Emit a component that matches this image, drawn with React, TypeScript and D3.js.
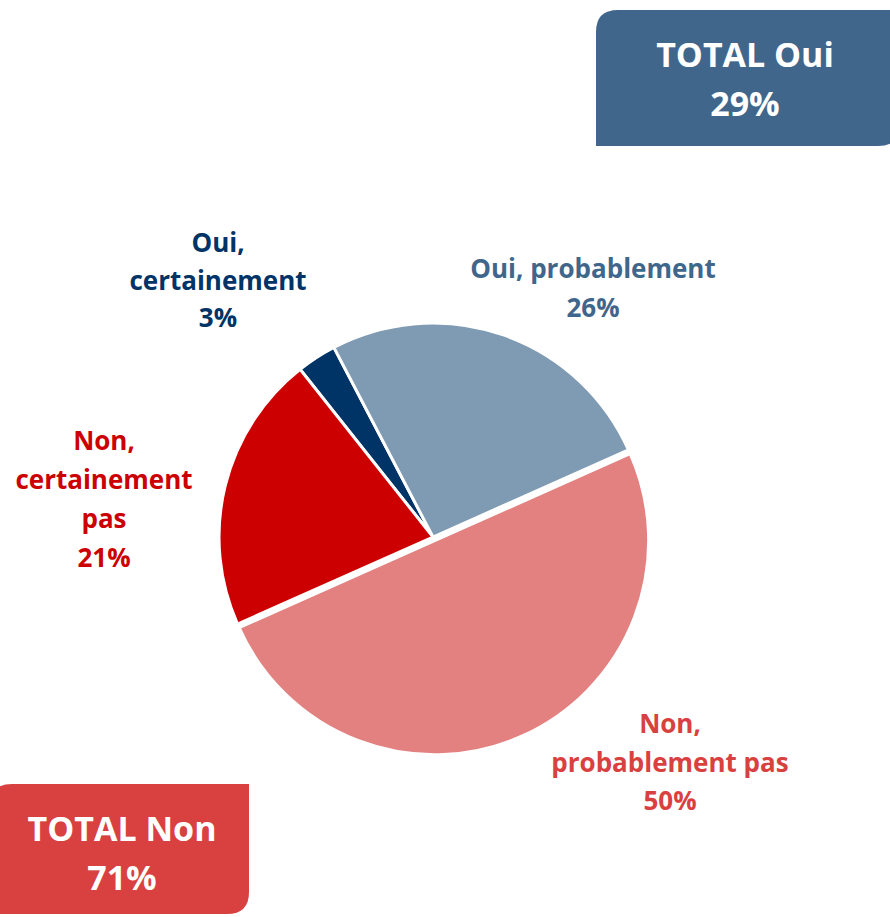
import React from 'react';
import * as d3 from 'd3';

// chart values
const categories = ['Oui, certainement', 'Oui, probablement', 'Non, probablement pas', 'Non, certainement pas'];
const values = [3, 26, 50, 21];
const sliceColors = ['#003366', '#7F9AB3', '#E38080', '#CC0000'];
const labelColors = ['#003366', '#41668C', '#D94040', '#CC0000'];
const labelLines = [
  ['Oui,', 'certainement', '3%'],
  ['Oui, probablement', '26%'],
  ['Non,', 'probablement pas', '50%'],
  ['Non,', 'certainement', 'pas', '21%'],
];
const totals = [
  { label: 'TOTAL Oui', value: '29%', color: '#41668C' },
  { label: 'TOTAL Non', value: '71%', color: '#D94040' },
];

const W = 890;
const H = 917;
const FONT = '"Open Sans", "DejaVu Sans", sans-serif';

const App = () => {
  const svgRef = React.useRef<SVGSVGElement>(null);

  React.useEffect(() => {
    const svg = d3.select(svgRef.current);
    svg.selectAll('*').remove();

    const cx = 433;
    const cy = 537;
    const r = 214;
    const startAngle = (-38.4 * Math.PI) / 180;

    const pie = d3.pie<number>().sort(null).value(d => d)
      .startAngle(startAngle).endAngle(startAngle + 2 * Math.PI);
    const arcs = pie(values);
    const arc = d3.arc<d3.PieArcDatum<number>>().innerRadius(0).outerRadius(r);

    const g = svg.append('g').attr('transform', `translate(${cx},${cy})`);
    g.selectAll('path')
      .data(arcs)
      .join('path')
      .attr('d', arc)
      .attr('fill', (d, i) => sliceColors[i])
      .attr('stroke', '#fff')
      .attr('stroke-width', 3)
      .attr('transform', (d, i) => {
        // the big slice is pulled out a little
        if (i !== 2) return null;
        const a = (d.startAngle + d.endAngle) / 2;
        const off = 4;
        return `translate(${Math.sin(a) * off},${-Math.cos(a) * off})`;
      });

    // label anchors, relative to pie center (x, first baseline)
    const labelAnchor = [
      [-215, -285],
      [160, -259],
      [237, 196],
      [-329, -87],
    ];
    const lineGap = [37.5, 39, 38.5, 39];

    labelLines.forEach((lines, i) => {
      const t = g.append('text')
        .attr('x', labelAnchor[i][0])
        .attr('y', labelAnchor[i][1])
        .attr('text-anchor', 'middle')
        .attr('font-family', FONT)
        .attr('font-weight', 700)
        .attr('font-size', 26)
        .attr('fill', labelColors[i]);
      lines.forEach((ln, j) => {
        t.append('tspan')
          .attr('x', labelAnchor[i][0])
          .attr('y', labelAnchor[i][1] + j * lineGap[i])
          .text(ln);
      });
    });

    // total boxes, rounded top-left and bottom-right corners
    const boxPath = (x0: number, y0: number, x1: number, y1: number, rr: number) =>
      `M${x0},${y0 + rr} Q${x0},${y0} ${x0 + rr},${y0} L${x1},${y0} L${x1},${y1 - rr} Q${x1},${y1} ${x1 - rr},${y1} L${x0},${y1} Z`;

    const boxes = [
      { x0: 596, y0: 10, x1: 900, y1: 146, tx: 745, ty: 67 },
      { x0: -10, y0: 784, x1: 249, y1: 914, tx: 122, ty: 841 },
    ];
    boxes.forEach((b, i) => {
      svg.append('path')
        .attr('d', boxPath(b.x0, b.y0, b.x1, b.y1, 22))
        .attr('fill', totals[i].color);
      const t = svg.append('text')
        .attr('text-anchor', 'middle')
        .attr('font-family', FONT)
        .attr('font-weight', 700)
        .attr('font-size', 34)
        .attr('fill', '#fff');
      t.append('tspan').attr('x', b.tx).attr('y', b.ty).text(totals[i].label);
      t.append('tspan').attr('x', b.tx).attr('y', b.ty + 49).text(totals[i].value);
    });
  }, []);

  return (
    <svg
      ref={svgRef}
      width={W}
      height={H}
      style={{ position: 'absolute', left: 0, top: 0, background: '#fff' }}
    />
  );
};

export default App;
